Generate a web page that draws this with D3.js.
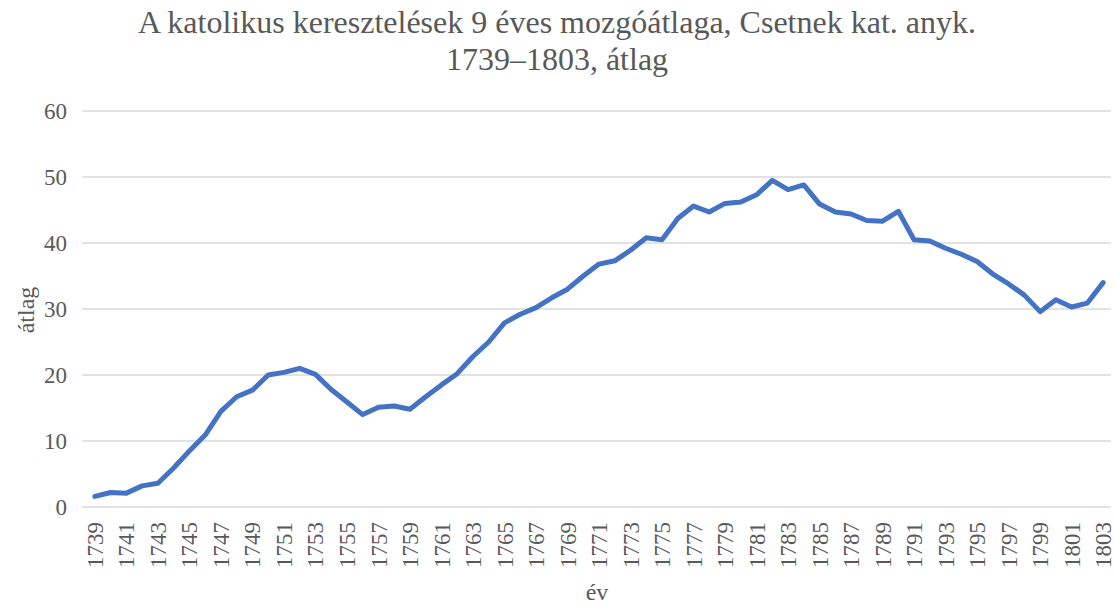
<!DOCTYPE html>
<html>
<head>
<meta charset="utf-8">
<script src="https://cdn.jsdelivr.net/npm/d3@7"></script>
<style>
  body { margin: 0; background: #fff; }
</style>
</head>
<body>
<div id="chart"></div>
<script>
// 9-year moving average of catholic baptisms, Csetnek
const years = d3.range(1739, 1804);
const values = [
  1.6, 2.2, 2.1, 3.2, 3.6, 5.9, 8.5, 10.9, 14.5, 16.7,
  17.7, 20.0, 20.4, 21.0, 20.1, 17.8, 15.9, 14.0, 15.1, 15.3,
  14.8, 16.7, 18.5, 20.2, 22.8, 25.0, 27.9, 29.2, 30.2, 31.7,
  33.0, 35.0, 36.8, 37.3, 38.9, 40.8, 40.5, 43.7, 45.6, 44.7,
  46.0, 46.2, 47.3, 49.5, 48.1, 48.8, 45.9, 44.7, 44.4, 43.4,
  43.3, 44.8, 40.5, 40.3, 39.2, 38.3, 37.2, 35.3, 33.8, 32.1,
  29.6, 31.4, 30.3, 30.9, 34.0
];
const yTicks = [0, 10, 20, 30, 40, 50, 60];
const titleLines = ["A katolikus keresztelések 9 éves mozgóátlaga, Csetnek kat. anyk.", "1739–1803, átlag"];

const W = 1115, H = 606;
const plotLeft = 87, plotRight = 1111, plotTop = 111, plotBottom = 507;
const serif = "'Liberation Serif', 'DejaVu Serif', serif";

const svg = d3.select("#chart").append("svg")
  .attr("width", W)
  .attr("height", H)
  .attr("font-family", serif);

const x = d3.scalePoint()
  .domain(years)
  .range([plotLeft, plotRight])
  .padding(0.5);

const y = d3.scaleLinear()
  .domain([0, 60])
  .range([plotBottom, plotTop]);

// gridlines
svg.append("g")
  .selectAll("line")
  .data(yTicks)
  .join("line")
  .attr("x1", plotLeft - 5)
  .attr("x2", plotRight)
  .attr("y1", d => y(d))
  .attr("y2", d => y(d))
  .attr("stroke", "#d9d9d9")
  .attr("stroke-width", 1.3);

// y axis labels
svg.append("g")
  .selectAll("text")
  .data(yTicks)
  .join("text")
  .attr("x", 67)
  .attr("y", d => y(d))
  .attr("dy", "0.35em")
  .attr("text-anchor", "end")
  .attr("fill", "#595959")
  .attr("font-family", serif)
  .style("font-size", "23px")
  .text(d => d);

// x axis labels, every other year
svg.append("g")
  .selectAll("text")
  .data(years.filter((d, i) => i % 2 === 0))
  .join("text")
  .attr("transform", d => `translate(${x(d)},${plotBottom + 15}) rotate(-90)`)
  .attr("dy", "0.35em")
  .attr("text-anchor", "end")
  .attr("fill", "#595959")
  .attr("font-family", serif)
  .style("font-size", "23px")
  .text(d => d);

// line
const line = d3.line()
  .x((d, i) => x(years[i]))
  .y(d => y(d));

svg.append("path")
  .datum(values)
  .attr("d", line)
  .attr("fill", "none")
  .attr("stroke", "#4472c4")
  .attr("stroke-width", 5)
  .attr("stroke-linejoin", "round")
  .attr("stroke-linecap", "round");

// title
svg.append("g")
  .selectAll("text")
  .data(titleLines)
  .join("text")
  .attr("x", 557)
  .attr("y", (d, i) => 33 + i * 37)
  .attr("text-anchor", "middle")
  .attr("fill", "#595959")
  .attr("font-family", serif)
  .style("font-size", "32px")
  .text(d => d);

// axis titles
svg.append("text")
  .attr("transform", "translate(34,310) rotate(-90)")
  .attr("text-anchor", "middle")
  .attr("fill", "#595959")
  .attr("font-family", serif)
  .style("font-size", "24px")
  .text("átlag");

svg.append("text")
  .attr("x", 597)
  .attr("y", 600)
  .attr("text-anchor", "middle")
  .attr("fill", "#595959")
  .attr("font-family", serif)
  .style("font-size", "24px")
  .text("év");
</script>
</body>
</html>
